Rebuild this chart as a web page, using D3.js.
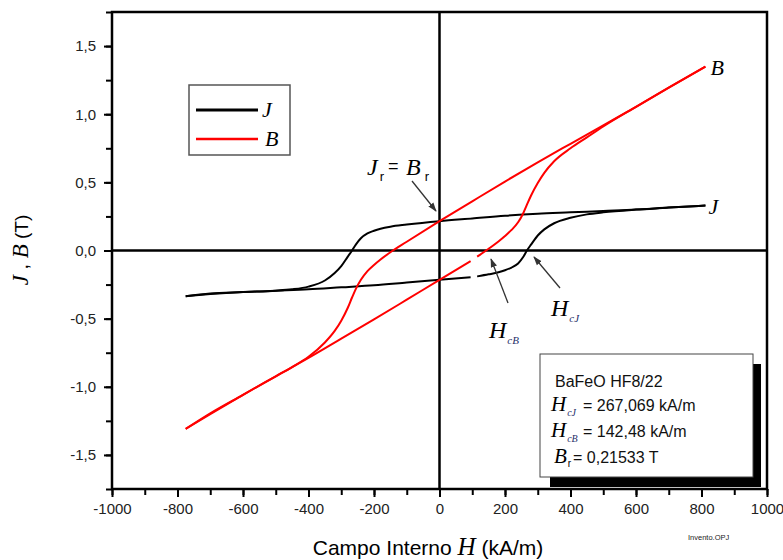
<!DOCTYPE html>
<html lang="pt">
<head>
<meta charset="UTF-8">
<title>Histerese BaFeO HF8/22</title>
<script src="https://d3js.org/d3.v7.min.js"></script>
<style>
  body { margin: 0; background: #fff; }
  svg { display: block; }
  .tick text { font-family: "Liberation Sans", Arial, sans-serif; font-size: 15px; fill: #222; }
  .math { font-family: "Liberation Serif", "Times New Roman", serif; font-style: italic; }
  .sans { font-family: "Liberation Sans", Arial, sans-serif; }
</style>
</head>
<body>
<svg id="chart" width="783" height="560"></svg>
<script>
// ramo superior (vindo da saturacao positiva)
const hUpper = [-775, -700, -600, -500, -450, -400, -350, -320, -300, -280, -267, -255, -240, -220, -200, -180, -150, -100, 0, 100, 200, 300, 400, 500, 600, 700, 812];
const jUpper = [-0.335, -0.32, -0.305, -0.295, -0.285, -0.265, -0.22, -0.165, -0.115, -0.045, 0, 0.045, 0.09, 0.125, 0.145, 0.16, 0.175, 0.19, 0.215, 0.235, 0.255, 0.27, 0.28, 0.29, 0.30, 0.315, 0.33];
const bUpper = [-1.309, -1.20, -1.059, -0.923, -0.855, -0.78, -0.675, -0.59, -0.515, -0.42, -0.345, -0.28, -0.215, -0.151, -0.106, -0.066, -0.013, 0.064, 0.215, 0.361, 0.506, 0.647, 0.783, 0.918, 1.054, 1.195, 1.35];

// ramo inferior (null = falha nos dados)
const hLower = [-775, -700, -600, -500, -400, -300, -200, -100, 0, 95, null, 115, 150, 180, 200, 220, 240, 255, 267, 280, 300, 320, 350, 400, 450, 500, 600, 700, 812];
const jLower = [-0.335, -0.315, -0.305, -0.295, -0.285, -0.27, -0.255, -0.235, -0.215, -0.197, null, -0.19, -0.175, -0.16, -0.145, -0.125, -0.095, -0.05, 0, 0.045, 0.11, 0.155, 0.2, 0.24, 0.265, 0.28, 0.30, 0.315, 0.33];
const bLower = [-1.309, -1.195, -1.059, -0.923, -0.788, -0.647, -0.506, -0.361, -0.215, -0.078, null, -0.045, 0.013, 0.066, 0.106, 0.151, 0.207, 0.27, 0.336, 0.405, 0.495, 0.57, 0.655, 0.75, 0.83, 0.91, 1.054, 1.195, 1.35];

const xTicks = [-1000, -800, -600, -400, -200, 0, 200, 400, 600, 800, 1000];
const yTicks = [-1.5, -1.0, -0.5, 0.0, 0.5, 1.0, 1.5];
const infoLines = ["BaFeO HF8/22", "= 267,069 kA/m", "= 142,48 kA/m", "= 0,21533 T"];

const svg = d3.select("#chart");
const pLeft = 112, pRight = 767, pTop = 12, pBottom = 489;

const x = d3.scaleLinear().domain([-1000, 1000]).range([pLeft, pRight]);
const y = d3.scaleLinear().domain([-1.75, 1.75]).range([pBottom, pTop]);

const ptLocale = d3.formatLocale({decimal: ",", thousands: "", grouping: [3], currency: ["", ""], minus: "-"});
const fmtY = ptLocale.format(".1f");
const fmtX = ptLocale.format("d");

// eixos com ticks menores
const xMinor = d3.range(-1000, 1001, 100);
const yMinor = d3.range(-1.75, 1.76, 0.25);

svg.append("g")
  .attr("transform", `translate(0,${pBottom})`)
  .call(d3.axisBottom(x).tickValues(xMinor).tickSize(6).tickFormat(""))
  .call(g => g.select(".domain").remove())
  .call(g => g.selectAll("line").attr("stroke", "#000").attr("stroke-width", 2));

svg.append("g")
  .attr("transform", `translate(0,${pBottom})`)
  .call(d3.axisBottom(x).tickValues(xTicks).tickSize(8).tickPadding(6).tickFormat(fmtX))
  .call(g => g.select(".domain").remove())
  .call(g => g.selectAll("line").attr("stroke", "#000").attr("stroke-width", 2));

svg.append("g")
  .attr("transform", `translate(${pLeft},0)`)
  .call(d3.axisLeft(y).tickValues(yMinor).tickSize(6).tickFormat(""))
  .call(g => g.select(".domain").remove())
  .call(g => g.selectAll("line").attr("stroke", "#000").attr("stroke-width", 2));

svg.append("g")
  .attr("transform", `translate(${pLeft},0)`)
  .call(d3.axisLeft(y).tickValues(yTicks).tickSize(8).tickPadding(8).tickFormat(fmtY))
  .call(g => g.select(".domain").remove())
  .call(g => g.selectAll("line").attr("stroke", "#000").attr("stroke-width", 2));

// moldura
svg.append("rect")
  .attr("x", pLeft).attr("y", pTop)
  .attr("width", pRight - pLeft).attr("height", pBottom - pTop)
  .attr("fill", "none").attr("stroke", "#000").attr("stroke-width", 2.5);

// linhas do zero
svg.append("line")
  .attr("x1", pLeft).attr("x2", pRight).attr("y1", y(0)).attr("y2", y(0))
  .attr("stroke", "#000").attr("stroke-width", 2.5);
svg.append("line")
  .attr("x1", x(0)).attr("x2", x(0)).attr("y1", pTop).attr("y2", pBottom)
  .attr("stroke", "#000").attr("stroke-width", 2.5);

// curvas
const line = d3.line()
  .defined(d => d[0] !== null && d[1] !== null)
  .x(d => x(d[0])).y(d => y(d[1]))
  .curve(d3.curveMonotoneX);

const series = [
  {h: hUpper, v: jUpper, color: "#000"},
  {h: hLower, v: jLower, color: "#000"},
  {h: hUpper, v: bUpper, color: "#ff0000"},
  {h: hLower, v: bLower, color: "#ff0000"}
];

svg.append("g").selectAll("path")
  .data(series)
  .join("path")
  .attr("d", s => line(s.h.map((h, i) => [h, s.v[i]])))
  .attr("fill", "none")
  .attr("stroke", s => s.color)
  .attr("stroke-width", 2);

// legenda
const leg = svg.append("g");
leg.append("rect").attr("x", 189).attr("y", 85).attr("width", 101).attr("height", 70)
  .attr("fill", "#fff").attr("stroke", "#555").attr("stroke-width", 1.5);
leg.append("line").attr("x1", 196).attr("x2", 258).attr("y1", 110).attr("y2", 110)
  .attr("stroke", "#000").attr("stroke-width", 3);
leg.append("line").attr("x1", 196).attr("x2", 258).attr("y1", 139).attr("y2", 139)
  .attr("stroke", "#ff0000").attr("stroke-width", 2.5);
leg.append("text").attr("class", "math").attr("x", 262).attr("y", 117).attr("font-size", 22).text("J");
leg.append("text").attr("class", "math").attr("x", 265).attr("y", 146).attr("font-size", 22).text("B");

// setas
svg.append("defs").append("marker")
  .attr("id", "arrow").attr("viewBox", "0 0 10 10")
  .attr("refX", 9).attr("refY", 5)
  .attr("markerWidth", 7).attr("markerHeight", 7)
  .attr("orient", "auto-start-reverse")
  .append("path").attr("d", "M0,1.5 L10,5 L0,8.5 Z").attr("fill", "#333");

function arrow(x1, y1, x2, y2) {
  svg.append("line")
    .attr("x1", x1).attr("y1", y1).attr("x2", x2).attr("y2", y2)
    .attr("stroke", "#333").attr("stroke-width", 1.3)
    .attr("marker-end", "url(#arrow)");
}

function mathText(xp, yp, main, sub, size, subColor) {
  const t = svg.append("text").attr("x", xp).attr("y", yp);
  t.append("tspan").attr("class", "math").attr("font-size", size).text(main);
  if (sub) {
    t.append("tspan").attr("class", sub.serif ? "math" : "sans")
      .attr("font-size", sub.size).attr("dy", sub.dy).attr("dx", sub.dx || 1)
      .attr("fill", subColor || "#000").text(sub.text);
  }
  return t;
}

// Jr = Br
mathText(367, 175, "J", {text: "r", size: 13, dy: 6, dx: 2}, 24);
svg.append("text").attr("class", "sans").attr("x", 388).attr("y", 172).attr("font-size", 18).text("=");
mathText(406, 175, "B", {text: "r", size: 13, dy: 6, dx: 4}, 24);
arrow(412, 181, 436, 211);

// HcB e HcJ
mathText(489, 338, "H", {text: "cB", size: 11, dy: 6, dx: 1, serif: true}, 24, "#1f2f6a");
arrow(508, 303, 491, 259);
mathText(551, 316, "H", {text: "cJ", size: 11, dy: 6, dx: 1, serif: true}, 24, "#1f2f6a");
arrow(560, 288, 534, 257);

// rotulos das curvas
svg.append("text").attr("class", "math").attr("x", x(hUpper[hUpper.length - 1]) + 5).attr("y", y(bUpper[bUpper.length - 1]) + 8)
  .attr("font-size", 22).text("B");
svg.append("text").attr("class", "math").attr("x", x(hUpper[hUpper.length - 1]) + 3).attr("y", y(jUpper[jUpper.length - 1]) + 8)
  .attr("font-size", 22).text("J");

// caixa de informacao
svg.append("rect").attr("x", 550).attr("y", 364).attr("width", 211).attr("height", 123).attr("fill", "#000");
svg.append("rect").attr("x", 540).attr("y", 354).attr("width", 213).attr("height", 123)
  .attr("fill", "#fff").attr("stroke", "#444").attr("stroke-width", 1);
svg.append("text").attr("class", "sans").attr("x", 555).attr("y", 387).attr("font-size", 16).attr("fill", "#111").text(infoLines[0]);
mathText(551, 411, "H", {text: "cJ", size: 10, dy: 5, dx: 1, serif: true}, 21, "#1f2f6a");
svg.append("text").attr("class", "sans").attr("x", 583).attr("y", 411).attr("font-size", 16).attr("fill", "#111").text(infoLines[1]);
mathText(551, 437, "H", {text: "cB", size: 10, dy: 5, dx: 1, serif: true}, 21, "#1f2f6a");
svg.append("text").attr("class", "sans").attr("x", 583).attr("y", 437).attr("font-size", 16).attr("fill", "#111").text(infoLines[2]);
mathText(554, 463, "B", {text: "r", size: 10, dy: 4, dx: 0}, 21);
svg.append("text").attr("class", "sans").attr("x", 573).attr("y", 463).attr("font-size", 16).attr("fill", "#111").text(infoLines[3]);

// titulos dos eixos
const yl = svg.append("text").attr("transform", "translate(28,250) rotate(-90)").attr("text-anchor", "middle");
yl.append("tspan").attr("class", "math").attr("font-size", 23).text("J");
yl.append("tspan").attr("class", "sans").attr("font-size", 20).text(" , ");
yl.append("tspan").attr("class", "math").attr("font-size", 23).text("B");
yl.append("tspan").attr("class", "sans").attr("font-size", 19).text(" (T)");

const xl = svg.append("text").attr("x", 428).attr("y", 555).attr("text-anchor", "middle");
xl.append("tspan").attr("class", "sans").attr("font-size", 21).text("Campo Interno  ");
xl.append("tspan").attr("class", "math").attr("font-size", 25).text("H");
xl.append("tspan").attr("class", "sans").attr("font-size", 21).text(" (kA/m)");

svg.append("text").attr("class", "sans").attr("x", 688).attr("y", 540).attr("font-size", 7.5).attr("fill", "#222").text("Invento.OPJ");
</script>
</body>
</html>
